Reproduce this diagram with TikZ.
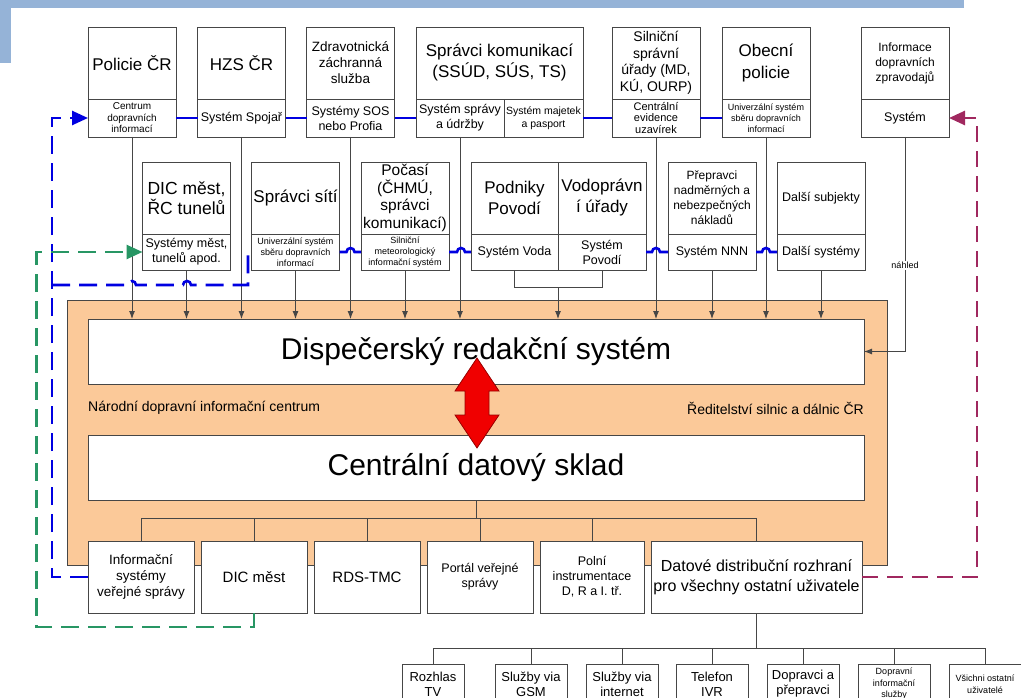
\documentclass[tikz,border=0pt]{standalone}
\usepackage{fontspec}
\setmainfont{Liberation Sans}
\usetikzlibrary{positioning, arrows.meta}
\definecolor{framecolor}{RGB}{70,70,70}
\definecolor{ndiccolor}{RGB}{251,201,153}
\definecolor{bandcolor}{RGB}{149,179,215}
\definecolor{linkblue}{RGB}{0,0,225}
\definecolor{linkgreen}{RGB}{40,150,100}
\definecolor{linkpurple}{RGB}{160,40,95}
\definecolor{arrowred}{RGB}{240,0,0}
\definecolor{arrowdark}{RGB}{150,0,0}
\newcommand{\fsz}[2]{\fontsize{#1}{#2}\selectfont}

\begin{document}
\begin{tikzpicture}[x = 1pt, y = -1pt,
                    box/.style = {draw = framecolor,
                                  fill = white,
                                  line width = 0.9pt,
                                  outer sep = 0pt,
                                  inner sep = 1pt,
                                  align = center},
                    head/.style = {box, minimum width = 88pt, minimum height = 72pt},
                    sys/.style = {box, minimum width = 88pt, minimum height = 38pt},
                    sys2/.style = {box, minimum width = 88pt, minimum height = 36pt},
                    big/.style = {box, minimum width = 776pt, minimum height = 65pt,
                                  font = \fsz{30}{34}},
                    outbox/.style = {box, minimum width = 106pt, minimum height = 72pt},
                    leaf/.style = {box, anchor = north, minimum width = 72pt,
                                   minimum height = 40pt, inner sep = 2pt},
                    feed/.style = {draw = framecolor, line width = 0.9pt,
                                   -{Latex[length = 8pt, width = 6pt]}},
                    tree/.style = {draw = framecolor, line width = 0.9pt},
                    bluelink/.style = {draw = linkblue, line width = 2.6pt},
                    bluedash/.style = {bluelink, dash pattern = on 18pt off 9pt},
                    greendash/.style = {draw = linkgreen, line width = 2.6pt,
                                        dash pattern = on 18pt off 9pt},
                    purpledash/.style = {draw = linkpurple, line width = 2.6pt,
                                         dash pattern = on 16pt off 9pt},
                    bigtip/.style = {-{Triangle[length = 16pt, width = 14pt]}}]

\path[use as bounding box, clip] (0,0) rectangle (1021,698);

% page band
\fill[bandcolor] (0,0) rectangle (964,8);
\fill[bandcolor] (0,0) rectangle (11,63);

% NDIC
\node[draw = framecolor, fill = ndiccolor, line width = 0.9pt,
      minimum width = 820pt, minimum height = 265pt] (ndic) at (477,432.5) {};
\node[big] (drs) at (476,351.5) {Dispečerský redakční systém};
\node[big] (cds) at (476,467.5) {Centrální datový sklad};
\node[anchor = west, inner sep = 0pt, font = \fsz{14}{16}] (ndicL) at (88,408)
     {Národní dopravní informační centrum};
\node[anchor = east, inner sep = 0pt, font = \fsz{14}{16}] (rsdL) at (864,408)
     {Ředitelství silnic a dálnic ČR};

% top row
\node[head, font = \fsz{17}{21}] (pol) at (132,63) {Policie ČR};
\node[sys, font = \fsz{10}{11.5}, below = 0pt of pol] (polS) {Centrum\\dopravních\\informací};
\node[head, font = \fsz{17}{21}] (hzs) at (241.5,63) {HZS ČR};
\node[sys, font = \fsz{12.5}{15}, below = 0pt of hzs] (hzsS) {Systém Spojař};
\node[head, font = \fsz{13.5}{16}] (zzs) at (350.5,63) {Zdravotnická\\záchranná\\služba};
\node[sys, font = \fsz{12.5}{15}, below = 0pt of zzs] (zzsS) {Systémy SOS\\nebo Profia};
\node[head, minimum width = 167pt, font = \fsz{17}{21}] (spk) at (499.5,63)
     {Správci komunikací\\(SSÚD, SÚS, TS)};
\node[sys, anchor = north west, font = \fsz{12.5}{15}] (spkS) at (spk.south west)
     {Systém správy\\a údržby};
\node[sys, anchor = north east, minimum width = 79pt, font = \fsz{10.5}{13}] (spkP)
     at (spk.south east) {Systém majetek\\a pasport};
\node[head, font = \fsz{14}{16.5}] (sil) at (656,63) {Silniční\\správní\\úřady (MD,\\KÚ, OURP)};
\node[sys, font = \fsz{11}{11.5}, below = 0pt of sil] (silS) {Centrální\\evidence\\uzavírek};
\node[head, font = \fsz{17}{22}] (obp) at (766,63) {Obecní\\policie};
\node[sys, font = \fsz{9}{11}, below = 0pt of obp] (obpS)
     {Univerzální systém\\sběru dopravních\\informací};
\node[head, font = \fsz{12}{15}] (izp) at (905,63) {Informace\\dopravních\\zpravodajů};
\node[sys, font = \fsz{12.5}{15}, below = 0pt of izp] (izpS) {Systém};

% second row
\node[head, font = \fsz{17.5}{20}] (dic) at (186.5,198) {DIC měst,\\ŘC tunelů};
\node[sys2, font = \fsz{12.5}{15}, below = 0pt of dic] (dicS) {Systémy měst,\\tunelů apod.};
\node[head, font = \fsz{17}{21}] (sit) at (295.5,198) {Správci sítí};
\node[sys2, font = \fsz{9}{11}, below = 0pt of sit] (sitS)
     {Univerzální systém\\sběru dopravních\\informací};
\node[head, font = \fsz{15.5}{17.5}] (poc) at (405,198) {Počasí\\(ČHMÚ,\\správci\\komunikací)};
\node[sys2, font = \fsz{9}{11}, below = 0pt of poc] (pocS)
     {Silniční\\meteorologický\\informační systém};
\node[head, minimum width = 87pt, font = \fsz{17}{21}] (pod) at (514.5,198) {Podniky\\Povodí};
\node[head, font = \fsz{17}{21}, right = 0pt of pod] (vod) {Vodoprávn\\í úřady};
\node[sys2, minimum width = 87pt, font = \fsz{12.5}{15}, below = 0pt of pod] (podS) {Systém Voda};
\node[sys2, font = \fsz{12.5}{15}, below = 0pt of vod] (vodS) {Systém\\Povodí};
\node[head, font = \fsz{12}{15}] (nnn) at (712,198) {Přepravci\\nadměrných a\\nebezpečných\\nákladů};
\node[sys2, font = \fsz{12.5}{15}, below = 0pt of nnn] (nnnS) {Systém NNN};
\node[head, font = \fsz{12.5}{15}] (dal) at (821,198) {Další subjekty};
\node[sys2, font = \fsz{12.5}{15}, below = 0pt of dal] (dalS) {Další systémy};

% output row
\node[outbox, font = \fsz{13.5}{16}] (isvs) at (141,577) {Informační\\systémy\\veřejné správy};
\node[outbox, font = \fsz{15}{18}, right = 7pt of isvs] (dicm) {DIC měst};
\node[outbox, font = \fsz{15}{18}, right = 7pt of dicm] (rds) {RDS-TMC};
\node[outbox, font = \fsz{12.5}{15}, right = 7pt of rds] (vsp) {Portál veřejné\\správy};
\node[outbox, minimum width = 104pt, font = \fsz{12.5}{15}, right = 7pt of vsp] (pin)
     {Polní\\instrumentace\\D, R a I. tř.};
\node[outbox, minimum width = 211pt, font = \fsz{16}{20}, right = 7pt of pin] (ddr)
     {Datové distribuční rozhraní\\pro všechny ostatní uživatele};

% users
\node[leaf, minimum width = 62pt, font = \fsz{13}{15}] (tv) at (433,664) {Rozhlas\\TV};
\node[leaf, font = \fsz{13}{15}] (gsm) at (531,664) {Služby via\\GSM};
\node[leaf, font = \fsz{13}{15}] (web) at (622,664) {Služby via\\internet};
\node[leaf, font = \fsz{13}{15}] (ivr) at (712,664) {Telefon\\IVR};
\node[leaf, font = \fsz{13}{15}] (dpr) at (803,664) {Dopravci a\\přepravci};
\node[leaf, font = \fsz{9}{11.5}] (dis) at (894,664) {Dopravní\\informační\\služby};
\node[leaf, font = \fsz{9}{11.5}] (vou) at (985,664) {Všichni ostatní\\uživatelé};

% feeds into the dispatch system
\draw[feed] (polS.south) -- (polS.south |- drs.north);
\draw[feed] (hzsS.south) -- (hzsS.south |- drs.north);
\draw[feed] (zzsS.south) -- (zzsS.south |- drs.north);
\draw[feed] (spkS.south) -- (spkS.south |- drs.north);
\draw[feed] (silS.south) -- (silS.south |- drs.north);
\draw[feed] (obpS.south) -- (obpS.south |- drs.north);
\draw[feed] (dicS.south) -- (dicS.south |- drs.north);
\draw[feed] (sitS.south) -- (sitS.south |- drs.north);
\draw[feed] (pocS.south) -- (pocS.south |- drs.north);
\draw[tree] (podS.south) -- ++(0,17) -| (vodS.south);
\draw[feed] (podS.south east) ++(0,17) -- (podS.south east |- drs.north);
\draw[feed] (nnnS.south) -- (nnnS.south |- drs.north);
\draw[feed] (dalS.south) -- (dalS.south |- drs.north);
\draw[feed] (izpS.south) |- node[pos = 0.3, fill = white, inner sep = 1pt, font = \fsz{9}{11}] {náhled}
            (drs.east);

% distribution tree
\draw[tree] (cds.south) -- ++(0,18) coordinate (cdsJ);
\draw[tree] (isvs.north |- cdsJ) -- (ddr.north |- cdsJ);
\draw[tree] (isvs.north |- cdsJ) -- (isvs.north);
\draw[tree] (dicm.north |- cdsJ) -- (dicm.north);
\draw[tree] (rds.north |- cdsJ) -- (rds.north);
\draw[tree] (vsp.north |- cdsJ) -- (vsp.north);
\draw[tree] (pin.north |- cdsJ) -- (pin.north);
\draw[tree] (ddr.north |- cdsJ) -- (ddr.north);

\draw[tree] (ddr.south) -- ++(0,35) coordinate (ddrJ);
\draw[tree] (tv.north |- ddrJ) -- (vou.north |- ddrJ);
\draw[tree] (tv.north |- ddrJ) -- (tv.north);
\draw[tree] (gsm.north |- ddrJ) -- (gsm.north);
\draw[tree] (web.north |- ddrJ) -- (web.north);
\draw[tree] (ivr.north |- ddrJ) -- (ivr.north);
\draw[tree] (dpr.north |- ddrJ) -- (dpr.north);
\draw[tree] (dis.north |- ddrJ) -- (dis.north);
\draw[tree] (vou.north |- ddrJ) -- (vou.north);

% blue links
\draw[bluelink] (polS.east) -- (hzsS.west);
\draw[bluelink] (hzsS.east) -- (zzsS.west);
\draw[bluelink] (zzsS.east) -- (spkS.west);
\draw[bluelink] (spkP.east) -- (silS.west);
\draw[bluelink] (silS.east) -- (obpS.west);
\draw[bluelink] (sitS.east) -- ++(7,0) arc[start angle = 180, end angle = 0, radius = 4pt] -- (pocS.west);
\draw[bluelink] (pocS.east) -- ++(8,0) arc[start angle = 180, end angle = 0, radius = 4pt] -- (podS.west);
\draw[bluelink] (vodS.east) -- ++(6,0) arc[start angle = 180, end angle = 0, radius = 4pt] -- (nnnS.west);
\draw[bluelink] (nnnS.east) -- ++(6,0) arc[start angle = 180, end angle = 0, radius = 4pt] -- (dalS.west);
\draw[bluedash, bigtip] (isvs.west) -| ([xshift = -36pt]polS.west) -- (polS.west);
\coordinate (bj) at (52,285);
\draw[bluedash] (bj) -- (128,285) arc[start angle = 180, end angle = 0, radius = 4pt]
                -- (183,285) arc[start angle = 180, end angle = 0, radius = 4pt]
                -- (248,285) |- (sitS.west);

% green and purple links
\draw[greendash, bigtip] (dicm.south) -- ++(0,14) -| ([xshift = -106pt]dicS.west) -- (dicS.west);
\draw[purpledash, bigtip] (ddr.east) -| ([xshift = 28pt]izpS.east) -- (izpS.east);

% exchange between the two systems
\filldraw[fill = arrowred, draw = arrowdark, line width = 0.8pt]
  (477,358) -- (499,391) -- (489,391) -- (489,415) -- (499,415) -- (477,448)
  -- (455,415) -- (465,415) -- (465,391) -- (455,391) -- cycle;

\end{tikzpicture}
\end{document}
